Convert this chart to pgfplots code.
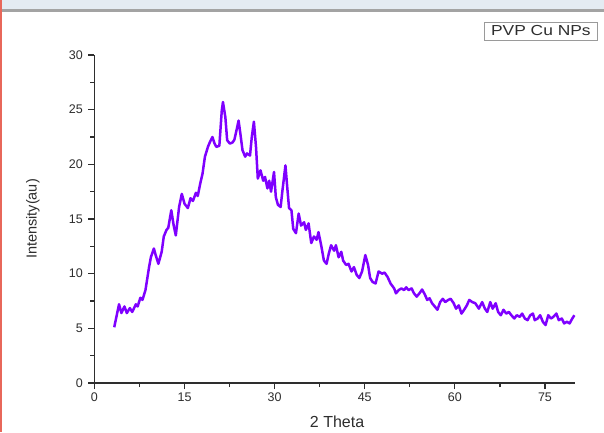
\documentclass[border=0pt]{standalone}
\usepackage{fontspec}
\setmainfont{Liberation Sans}
\usepackage{graphicx}
\usepackage{pgfplots}
\pgfplotsset{compat=1.18}
\definecolor{violetline}{HTML}{7F00FF}
\definecolor{axisgray}{HTML}{2E2E2E}
\definecolor{labelgray}{HTML}{2E2E2E}
\definecolor{boxgray}{HTML}{9A9A9A}
\definecolor{bandblue}{HTML}{E4EBF2}
\definecolor{bandline}{HTML}{A3A3A3}
\definecolor{redline}{HTML}{E8675A}

\begin{document}
\begin{tikzpicture}
% page frame (screenshot edges)
\fill[white] (0,0) rectangle (604pt,432pt);
\path[use as bounding box] (0,0) rectangle (604pt,432pt);
\fill[bandblue] (0,422.5pt) rectangle (604pt,432pt);
\fill[bandline] (0,419.5pt) rectangle (604pt,422.5pt);
\fill[redline] (0,0) rectangle (2pt,432pt);

\begin{axis}[
  scale only axis, width=480.6pt, height=328pt,
  at={(94.4pt,49pt)}, anchor=south west,
  xmin=0, xmax=80, ymin=0, ymax=30,
  axis lines=left, axis line style={-, line width=1.3pt, draw=axisgray},
  xtick={0,15,...,75}, ytick={0,5,...,30},
  minor x tick num=1, minor y tick num=1,
  tick align=outside, major tick length=6pt, minor tick length=4pt,
  tick style={line width=1.2pt, draw=axisgray},
  ticklabel style={font=\fontsize{12.5}{14}\selectfont, text=labelgray},
  yticklabel style={xshift=-2pt},
  /pgf/number format/assume math mode=true,
  xlabel={2 Theta}, ylabel={Intensity(au)},
  xlabel style={at={(axis description cs:0.505,-0.119)}, anchor=center,
                font=\fontsize{16}{18}\selectfont, text=axisgray},
  ylabel style={at={(axis description cs:-0.128,0.5)}, anchor=center,
                font=\fontsize{14.5}{16}\selectfont, text=axisgray},
  legend style={at={(axis description cs:1.048,1.102)}, anchor=north east,
                draw=boxgray, line width=0.8pt, inner xsep=5pt, inner ysep=1.5pt,
                font=\fontsize{14.5}{16}\selectfont, text=labelgray},
  legend image code/.code={},
  clip=false
]
\addplot[violetline, line width=2.5pt, line join=round] coordinates {
(3.3,5.1)(4.1,7.2)(4.5,6.4)(5.0,7.0)(5.4,6.4)(5.9,6.85)(6.3,6.5)(6.9,7.2)
(7.2,7.0)(7.65,7.8)(8.0,7.6)(8.5,8.5)(9.1,10.6)(9.4,11.5)(9.9,12.3)(10.2,11.7)
(10.65,10.9)(11.2,12.0)(11.55,13.4)(12.0,14.0)(12.3,14.2)(12.8,15.8)(13.2,14.4)
(13.55,13.5)(14.1,16.1)(14.55,17.3)(15.0,16.4)(15.55,16.0)(16.0,16.9)(16.4,16.65)
(16.9,17.4)(17.2,17.1)(17.6,18.2)(18.0,19.15)(18.4,20.7)(18.9,21.6)(19.2,22.0)
(19.65,22.5)(20.0,21.9)(20.3,21.6)(20.8,21.7)(21.2,24.9)(21.4,25.7)(21.8,24.3)
(22.1,22.2)(22.55,21.9)(23.0,22.0)(23.3,22.25)(23.65,23.1)(24.0,24.0)(24.3,22.8)
(24.65,21.3)(25.1,20.7)(25.4,21.0)(25.9,20.8)(26.2,22.5)(26.55,23.9)(26.9,21.6)
(27.2,18.7)(27.65,19.45)(28.1,18.5)(28.4,18.85)(28.8,17.8)(29.1,18.5)(29.4,17.5)
(29.9,19.3)(30.2,17.0)(30.55,16.3)(31.0,16.1)(31.3,17.6)(31.8,19.9)(32.1,17.9)
(32.4,16.0)(32.8,15.8)(33.1,14.1)(33.55,13.7)(34.0,15.5)(34.4,14.4)(34.9,14.7)
(35.2,14.0)(35.65,14.6)(36.1,12.8)(36.55,13.4)(37.0,13.1)(37.3,13.8)(37.8,12.45)
(38.2,11.2)(38.65,10.9)(39.0,11.8)(39.4,12.6)(39.9,12.1)(40.2,12.6)(40.65,11.5)
(41.1,12.0)(41.4,11.2)(41.9,10.8)(42.3,10.9)(42.8,10.2)(43.2,10.6)(43.65,9.9)
(44.1,9.6)(44.55,10.2)(45.1,11.7)(45.55,10.8)(45.9,9.6)(46.3,9.25)(46.8,9.1)
(47.3,10.2)(47.9,10.0)(48.3,10.1)(48.8,9.7)(49.3,9.1)(49.9,8.65)(50.2,8.2)
(50.65,8.5)(51.1,8.65)(51.55,8.5)(51.9,8.75)(52.3,8.5)(52.8,8.65)(53.2,8.2)
(53.65,7.9)(54.1,8.2)(54.55,8.55)(55.0,8.1)(55.4,7.6)(55.8,7.75)(56.2,7.3)
(56.65,7.0)(57.1,6.7)(57.55,7.4)(58.0,7.7)(58.4,7.4)(58.9,7.6)(59.3,7.7)
(59.8,7.3)(60.2,6.8)(60.65,7.1)(61.1,6.35)(61.55,6.7)(62.0,7.1)(62.4,7.6)
(62.9,7.4)(63.4,7.3)(64.0,6.8)(64.55,7.4)(65.0,6.8)(65.4,6.5)(65.9,7.4)
(66.3,6.8)(66.8,7.3)(67.2,6.5)(67.65,6.2)(68.1,6.7)(68.55,6.35)(69.0,6.5)
(69.4,6.2)(69.9,5.9)(70.3,6.2)(70.8,6.05)(71.2,6.35)(71.65,5.9)(72.1,5.75)
(72.55,6.2)(73.0,6.35)(73.3,5.75)(73.8,5.9)(74.2,6.2)(74.65,5.6)(75.1,5.3)
(75.55,6.2)(76.0,5.9)(76.4,6.05)(76.9,6.35)(77.3,5.75)(77.8,5.9)(78.2,5.45)
(78.65,5.6)(79.1,5.45)(79.55,5.9)(79.9,6.2)};
\addlegendentry{\scalebox{1.2}[1]{PVP Cu NPs}}
\end{axis}
\end{tikzpicture}
\end{document}
